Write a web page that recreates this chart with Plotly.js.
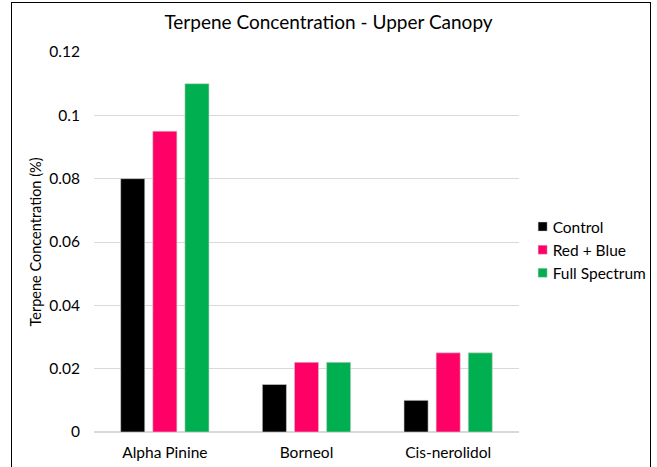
<!DOCTYPE html>
<html><head><meta charset="utf-8">
<script src="https://cdn.plot.ly/plotly-3.0.1.min.js"></script>
<style>
body{margin:0;padding:0;background:#fff;}
#wrap{position:relative;width:657px;height:467px;overflow:hidden;}
#chart{width:657px;height:467px;}
#frame{position:absolute;left:11px;top:2px;width:638px;height:480px;border:1.5px solid #000;pointer-events:none;}
</style></head>
<body>
<div id="wrap"><div id="chart"></div><div id="frame"></div></div>
<script>
var categories = ["Alpha Pinine", "Borneol", "Cis-nerolidol"];
var seriesNames = ["Control", "Red + Blue", "Full Spectrum"];
var control = [0.080, 0.015, 0.010];
var redBlue = [0.095, 0.022, 0.025];
var fullSpectrum = [0.110, 0.022, 0.025];
var colors = ["#000000", "#FF0066", "#00B050"];
var values = [control, redBlue, fullSpectrum];

var traces = values.map(function(v, i){
  return {type:"bar", name:seriesNames[i], x:categories, y:v,
    marker:{color:colors[i], line:{color:"#d0d0d0", width:0.6}}};
});
var font = "Lato, 'Open Sans', sans-serif";
var layout = {
  width:657, height:467,
  margin:{l:94, r:138, t:52, b:35, autoexpand:false},
  paper_bgcolor:"#fff", plot_bgcolor:"#fff",
  font:{family:font, color:"#000", size:15.5},
  title:{text:"Terpene Concentration - Upper Canopy", font:{size:19, family:font, color:"#000"}, x:0.5, xanchor:"center", y:0.953, yanchor:"middle"},
  barmode:"group", bargap:0.32, bargroupgap:0.25,
  xaxis:{showgrid:false, showline:false, ticks:"", tickfont:{size:15.5}, zeroline:false, ticklabelstandoff:9},
  yaxis:{range:[0,0.12], dtick:0.02, showgrid:true, gridcolor:"#D9D9D9", gridwidth:1,
    zeroline:true, zerolinecolor:"#D9D9D9", zerolinewidth:1.5, showline:false, ticks:"",
    tickfont:{size:15.5}, ticklabelstandoff:13,
    title:{text:"Terpene Concentration (%)", font:{size:14.5}, standoff:4}},
  legend:{x:0.985, xanchor:"left", y:0.479, yanchor:"middle", font:{size:15.5}, itemwidth:30, bgcolor:"rgba(0,0,0,0)"},
  showlegend:true
};
Plotly.newPlot("chart", traces, layout, {displayModeBar:false, staticPlot:true}).then(function(){
  var pts = document.querySelectorAll('.legend .legendpoints path');
  pts.forEach(function(p){
    p.setAttribute('transform', 'translate(30,0) scale(0.75)');
  });
});
</script>
</body></html>
